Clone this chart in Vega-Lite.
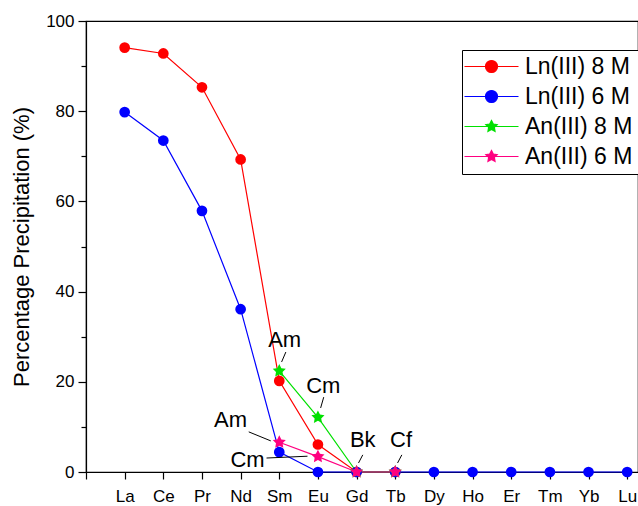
{
  "$schema": "https://vega.github.io/schema/vega-lite/v6.json",
  "width": 552,
  "height": 451,
  "autosize": {"type": "none"},
  "padding": {"left": 86, "top": 21, "right": 0, "bottom": 34},
  "background": "white",
  "config": {
    "font": "Liberation Sans",
    "view": {"stroke": "black", "strokeWidth": 1.2},
    "axis": {
      "domainColor": "black", "domainWidth": 1.2, "tickColor": "black", "tickWidth": 1.2,
      "labelColor": "black", "labelFont": "Liberation Sans", "labelFontSize": 17,
      "titleColor": "black", "titleFont": "Liberation Sans", "titleFontWeight": "normal",
      "grid": false, "labelOverlap": false, "labelFlush": false
    },
    "axisX": {"labelOverlap": false},
    "axisQuantitative": {"labelOverlap": false}
  },
  "datasets": {
    "series": [
      {"element": "La", "i": 1, "series": "Ln(III) 8 M", "value": 94.1},
      {"element": "Ce", "i": 2, "series": "Ln(III) 8 M", "value": 92.8},
      {"element": "Pr", "i": 3, "series": "Ln(III) 8 M", "value": 85.3},
      {"element": "Nd", "i": 4, "series": "Ln(III) 8 M", "value": 69.3},
      {"element": "Sm", "i": 5, "series": "Ln(III) 8 M", "value": 20.2},
      {"element": "Eu", "i": 6, "series": "Ln(III) 8 M", "value": 6.1},
      {"element": "Gd", "i": 7, "series": "Ln(III) 8 M", "value": 0},
      {"element": "Tb", "i": 8, "series": "Ln(III) 8 M", "value": 0},
      {"element": "La", "i": 1, "series": "Ln(III) 6 M", "value": 79.8},
      {"element": "Ce", "i": 2, "series": "Ln(III) 6 M", "value": 73.5},
      {"element": "Pr", "i": 3, "series": "Ln(III) 6 M", "value": 57.9},
      {"element": "Nd", "i": 4, "series": "Ln(III) 6 M", "value": 36.1},
      {"element": "Sm", "i": 5, "series": "Ln(III) 6 M", "value": 4.4},
      {"element": "Eu", "i": 6, "series": "Ln(III) 6 M", "value": 0},
      {"element": "Gd", "i": 7, "series": "Ln(III) 6 M", "value": 0},
      {"element": "Tb", "i": 8, "series": "Ln(III) 6 M", "value": 0},
      {"element": "Dy", "i": 9, "series": "Ln(III) 6 M", "value": 0},
      {"element": "Ho", "i": 10, "series": "Ln(III) 6 M", "value": 0},
      {"element": "Er", "i": 11, "series": "Ln(III) 6 M", "value": 0},
      {"element": "Tm", "i": 12, "series": "Ln(III) 6 M", "value": 0},
      {"element": "Yb", "i": 13, "series": "Ln(III) 6 M", "value": 0},
      {"element": "Lu", "i": 14, "series": "Ln(III) 6 M", "value": 0},
      {"element": "Am", "i": 5, "series": "An(III) 8 M", "value": 22.4},
      {"element": "Cm", "i": 6, "series": "An(III) 8 M", "value": 12.1},
      {"element": "Bk", "i": 7, "series": "An(III) 8 M", "value": 0},
      {"element": "Cf", "i": 8, "series": "An(III) 8 M", "value": 0},
      {"element": "Am", "i": 5, "series": "An(III) 6 M", "value": 6.6},
      {"element": "Cm", "i": 6, "series": "An(III) 6 M", "value": 3.4},
      {"element": "Bk", "i": 7, "series": "An(III) 6 M", "value": 0},
      {"element": "Cf", "i": 8, "series": "An(III) 6 M", "value": 0}
    ],
    "notes": [
      {"label": "Am", "i": 5.14, "value": 27.7},
      {"label": "Cm", "i": 6.14, "value": 17.5},
      {"label": "Am", "i": 3.74, "value": 10.0},
      {"label": "Cm", "i": 4.18, "value": 1.1},
      {"label": "Bk", "i": 7.16, "value": 5.5},
      {"label": "Cf", "i": 8.15, "value": 5.5}
    ],
    "leaders": [
      {"i": 5.17, "value": 26.6, "i2": 5.06, "value2": 24.4},
      {"i": 6.15, "value": 16.6, "i2": 6.07, "value2": 14.2},
      {"i": 4.21, "value": 8.9, "i2": 4.78, "value2": 6.9},
      {"i": 4.67, "value": 3.1, "i2": 5.73, "value2": 3.5},
      {"i": 7.16, "value": 3.8, "i2": 7.05, "value2": 2.0},
      {"i": 8.17, "value": 3.8, "i2": 8.06, "value2": 2.0}
    ]
  },
  "encoding": {
    "x": {
      "field": "i", "type": "quantitative",
      "scale": {"domain": [0, 14.28], "nice": false, "zero": false},
      "axis": {
        "title": null, "values": [0,1,2,3,4,5,6,7,8,9,10,11,12,13,14],
        "tickSize": 7, "labelPadding": 9, "labelOverlap": false, "labelBound": false,
        "labelExpr": "datum.value >= 1 ? ['La','Ce','Pr','Nd','Sm','Eu','Gd','Tb','Dy','Ho','Er','Tm','Yb','Lu'][datum.value - 1] : ''"
      }
    },
    "y": {
      "field": "value", "type": "quantitative",
      "scale": {"domain": [0, 100], "nice": false},
      "axis": {
        "title": "Percentage Precipitation (%)", "titleFontSize": 22, "titlePadding": 12,
        "values": [0,10,20,30,40,50,60,70,80,90,100], "labelOverlap": false,
        "labelExpr": "datum.value % 20 == 0 ? datum.label : ''",
        "tickSize": {"condition": {"test": "datum.value % 20 == 0", "value": 8}, "value": 5},
        "labelPadding": 4
      }
    }
  },
  "layer": [
    {
      "data": {"name": "series"},
      "mark": {"type": "line", "strokeWidth": 1.2},
      "encoding": {
        "color": {
          "field": "series", "type": "nominal",
          "scale": {
            "domain": ["Ln(III) 8 M", "Ln(III) 6 M", "An(III) 8 M", "An(III) 6 M"],
            "range": ["#ff0000", "#0000ff", "#00e000", "#ff0080"]
          },
          "legend": {
            "title": null, "orient": "none", "legendX": 376, "legendY": 29,
            "strokeColor": "black", "fillColor": "white", "padding": 5,
            "labelFontSize": 23, "labelFont": "Liberation Sans", "labelColor": "black",
            "symbolSize": 144, "symbolOffset": 13, "labelOffset": 22, "rowPadding": 6,
            "symbolStrokeWidth": 1.2,
            "encode": {
              "symbols": {
                "update": {
                  "shape": {"signal": "indexof(datum.value, 'An') >= 0 ? 'M-4.5,0L4.5,0M0,-1L0.3,-0.41L0.951,-0.309L0.476,0.155L0.588,0.809L0,0.5L-0.588,0.809L-0.476,0.155L-0.951,-0.309L-0.3,-0.41Z' : 'M-4.5,0L4.5,0M1,0A1,1,0,1,1,-1,0A1,1,0,1,1,1,0Z'"},
                  "fill": {"signal": "scale('color', datum.value)"},
                  "stroke": {"signal": "scale('color', datum.value)"},
                  "strokeWidth": {"value": 1.2},
                  "strokeOpacity": {"value": 1},
                  "fillOpacity": {"value": 1},
                  "size": {"value": 144},
                  "opacity": {"value": 1}
                }
              }
            }
          }
        }
      }
    },
    {
      "data": {"name": "series"},
      "transform": [{"filter": "indexof(datum.series, 'Ln') >= 0"}],
      "mark": {"type": "point", "filled": true, "opacity": 1, "strokeWidth": 0, "shape": "circle", "size": 115},
      "encoding": {
        "color": {"field": "series", "type": "nominal"}
      }
    },
    {
      "data": {"name": "series"},
      "transform": [{"filter": "indexof(datum.series, 'An') >= 0"}],
      "mark": {"type": "point", "filled": true, "opacity": 1, "strokeWidth": 0, "size": 190,
        "shape": "M0,-1L0.3,-0.41L0.951,-0.309L0.476,0.155L0.588,0.809L0,0.5L-0.588,0.809L-0.476,0.155L-0.951,-0.309L-0.3,-0.41Z"},
      "encoding": {
        "color": {"field": "series", "type": "nominal"}
      }
    },
    {
      "data": {"name": "leaders"},
      "mark": {"type": "rule", "color": "black", "strokeWidth": 1},
      "encoding": {
        "x2": {"field": "i2"},
        "y2": {"field": "value2"}
      }
    },
    {
      "data": {"name": "notes"},
      "mark": {"type": "text", "fontSize": 22, "font": "Liberation Sans", "color": "black", "align": "center", "baseline": "alphabetic"},
      "encoding": {
        "text": {"field": "label"}
      }
    }
  ]
}
